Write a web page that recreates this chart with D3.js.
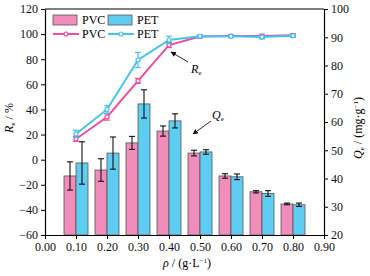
<!DOCTYPE html>
<html>
<head>
<meta charset="utf-8">
<script src="https://cdn.jsdelivr.net/npm/d3@7"></script>
<style>
  body { margin: 0; background: #fff; }
  text { font-family: "Liberation Serif", "DejaVu Serif", serif; }
</style>
</head>
<body>
<div id="chart"></div>
<script>
// Concentration categories (g/L)
const conc = [0.1, 0.2, 0.3, 0.4, 0.5, 0.6, 0.7, 0.8];

// Q_e bars (right axis, mg/g)
const pvcQ = [40.9, 43.0, 52.6, 56.8, 49.0, 40.9, 35.3, 31.0];
const pvcQErr = [5.0, 4.0, 2.3, 1.8, 1.0, 0.8, 0.4, 0.3];
const petQ = [45.5, 49.0, 66.4, 60.4, 49.4, 40.6, 34.7, 30.7];
const petQErr = [7.5, 5.7, 5.0, 2.5, 0.8, 1.0, 1.0, 0.6];

// R_e lines (left axis, %)
const pvcR = [16.5, 34.0, 62.7, 91.3, 98.0, 98.5, 98.4, 99.0];
const pvcRErr = [2.0, 2.5, 2.0, 2.0, 1.2, 1.2, 1.5, 1.2];
const petR = [20.5, 40.0, 79.4, 95.3, 98.3, 98.3, 97.6, 98.6];
const petRErr = [3.0, 3.0, 6.0, 3.0, 1.2, 1.0, 1.5, 1.2];

// Tick values
const xTicks = [0, 0.1, 0.2, 0.3, 0.4, 0.5, 0.6, 0.7, 0.8, 0.9];
const yLTicks = [-60, -40, -20, 0, 20, 40, 60, 80, 100, 120];
const yRTicks = [20, 30, 40, 50, 60, 70, 80, 90, 100];

const W = 370, H = 276;
const pinkBar = '#f08dbb', blueBar = '#5fcdf1';
const pinkLine = '#ee4e9d', blueLine = '#45c3f0';
const fs = 12;

const svg = d3.select('#chart').append('svg')
    .attr('width', W).attr('height', H);

const mLeft = 45, mRight = 324, mTop = 9, mBottom = 235;

const x = d3.scaleLinear().domain([0, 0.9]).range([mLeft, mRight]);
const yL = d3.scaleLinear().domain([-60, 120]).range([mBottom, mTop]);
const yR = d3.scaleLinear().domain([20, 100]).range([mBottom, mTop]);

const bw = 12;

// Bars
function drawBars(vals, errs, color, offset) {
    const g = svg.append('g');
    g.selectAll('rect').data(vals).enter().append('rect')
        .attr('x', (d, i) => x(conc[i]) + offset)
        .attr('y', d => yR(d))
        .attr('width', bw)
        .attr('height', d => mBottom - yR(d))
        .attr('fill', color)
        .attr('stroke', '#555')
        .attr('stroke-width', 0.8);
    vals.forEach((d, i) => {
        const cx = x(conc[i]) + offset + bw / 2;
        const y1 = yR(d + errs[i]), y2 = yR(d - errs[i]);
        g.append('line').attr('x1', cx).attr('x2', cx).attr('y1', y1).attr('y2', y2)
            .attr('stroke', '#111').attr('stroke-width', 1.1);
        [y1, y2].forEach(yy => g.append('line')
            .attr('x1', cx - 3).attr('x2', cx + 3).attr('y1', yy).attr('y2', yy)
            .attr('stroke', '#111').attr('stroke-width', 1.1));
    });
}
drawBars(pvcQ, pvcQErr, pinkBar, -bw);
drawBars(petQ, petQErr, blueBar, 0);

// Lines
function drawLine(vals, errs, color) {
    const g = svg.append('g');
    const line = d3.line().x((d, i) => x(conc[i])).y(d => yL(d));
    g.append('path').datum(vals).attr('d', line)
        .attr('fill', 'none').attr('stroke', color).attr('stroke-width', 2);
    vals.forEach((d, i) => {
        const cx = x(conc[i]);
        const y1 = yL(d + errs[i]), y2 = yL(d - errs[i]);
        g.append('line').attr('x1', cx).attr('x2', cx).attr('y1', y1).attr('y2', y2)
            .attr('stroke', color).attr('stroke-width', 1.2);
        [y1, y2].forEach(yy => g.append('line')
            .attr('x1', cx - 3).attr('x2', cx + 3).attr('y1', yy).attr('y2', yy)
            .attr('stroke', color).attr('stroke-width', 1.2));
    });
    g.selectAll('circle').data(vals).enter().append('circle')
        .attr('cx', (d, i) => x(conc[i]))
        .attr('cy', d => yL(d))
        .attr('r', 2)
        .attr('fill', '#fff')
        .attr('stroke', color)
        .attr('stroke-width', 1.2);
}
drawLine(pvcR, pvcRErr, pinkLine);
drawLine(petR, petRErr, blueLine);

// Axes
const fmt2 = d3.format('.2f');
const xAxis = svg.append('g').attr('transform', `translate(0,${mBottom})`)
    .call(d3.axisBottom(x).tickValues(xTicks).tickFormat(fmt2).tickSize(4).tickSizeOuter(0));
const yLAxis = svg.append('g').attr('transform', `translate(${mLeft},0)`)
    .call(d3.axisLeft(yL).tickValues(yLTicks).tickFormat(d => d < 0 ? '\u2212' + Math.abs(d) : d).tickSize(4).tickSizeOuter(0));
const yRAxis = svg.append('g').attr('transform', `translate(${mRight},0)`)
    .call(d3.axisRight(yR).tickValues(yRTicks).tickSize(4).tickSizeOuter(0));
svg.append('line').attr('x1', mLeft).attr('x2', mRight).attr('y1', mTop).attr('y2', mTop)
    .attr('stroke', '#000').attr('stroke-width', 1.2);

[xAxis, yLAxis, yRAxis].forEach(a => {
    a.selectAll('path').attr('stroke', '#000').attr('stroke-width', 1.2);
    a.selectAll('line').attr('stroke', '#000');
    a.selectAll('text').attr('font-family', '"Liberation Serif", serif')
        .attr('font-size', fs).attr('fill', '#111');
});

// Axis titles
svg.append('text')
    .attr('transform', `translate(13,${(mTop + mBottom) / 2 - 4}) rotate(-90)`)
    .attr('text-anchor', 'middle').attr('font-size', fs)
    .html('<tspan font-style="italic">R</tspan><tspan font-size="7" dy="2">e</tspan><tspan dy="-2"> / %</tspan>');

svg.append('text')
    .attr('transform', `translate(362,${(mTop + mBottom) / 2 + 6}) rotate(-90)`)
    .attr('text-anchor', 'middle').attr('font-size', fs)
    .html('<tspan font-style="italic">Q</tspan><tspan font-size="7" dy="2">e</tspan><tspan dy="-2"> / (mg·g</tspan><tspan font-size="7" dy="-4">−1</tspan><tspan dy="4">)</tspan>');

svg.append('text')
    .attr('x', 187).attr('y', 267)
    .attr('text-anchor', 'middle').attr('font-size', fs)
    .html('<tspan font-style="italic">ρ</tspan> / (g·L<tspan font-size="7" dy="-4">−1</tspan><tspan dy="4">)</tspan>');

// Legend
const leg = svg.append('g');
[[pinkBar, 'PVC', 53], [blueBar, 'PET', 108]].forEach(([c, t, lx]) => {
    leg.append('rect').attr('x', lx).attr('y', 15).attr('width', 24).attr('height', 10)
        .attr('fill', c).attr('stroke', '#555').attr('stroke-width', 0.8);
    leg.append('text').attr('x', lx + 29).attr('y', 24).attr('font-size', fs).text(t);
});
[[pinkLine, 'PVC', 53], [blueLine, 'PET', 108]].forEach(([c, t, lx]) => {
    leg.append('line').attr('x1', lx).attr('x2', lx + 26).attr('y1', 34).attr('y2', 34)
        .attr('stroke', c).attr('stroke-width', 2);
    leg.append('circle').attr('cx', lx + 13).attr('cy', 34).attr('r', 2)
        .attr('fill', '#fff').attr('stroke', c).attr('stroke-width', 1.2);
    leg.append('text').attr('x', lx + 29).attr('y', 38).attr('font-size', fs).text(t);
});

// Annotations
svg.append('defs').append('marker')
    .attr('id', 'arr').attr('viewBox', '0 0 10 10').attr('refX', 9).attr('refY', 5)
    .attr('markerWidth', 6).attr('markerHeight', 6).attr('orient', 'auto')
    .append('path').attr('d', 'M0,0 L10,5 L0,10 z').attr('fill', '#111');

svg.append('line').attr('x1', 188).attr('y1', 62).attr('x2', 171).attr('y2', 52)
    .attr('stroke', '#111').attr('stroke-width', 0.9).attr('marker-end', 'url(#arr)');
svg.append('text').attr('x', 191).attr('y', 73).attr('font-size', fs)
    .html('<tspan font-style="italic">R</tspan><tspan font-size="7" dy="2">e</tspan>');

svg.append('line').attr('x1', 211).attr('y1', 121).attr('x2', 193).attr('y2', 134)
    .attr('stroke', '#111').attr('stroke-width', 0.9).attr('marker-end', 'url(#arr)');
svg.append('text').attr('x', 212).attr('y', 119).attr('font-size', fs)
    .html('<tspan font-style="italic">Q</tspan><tspan font-size="7" dy="2">e</tspan>');
</script>
</body>
</html>
